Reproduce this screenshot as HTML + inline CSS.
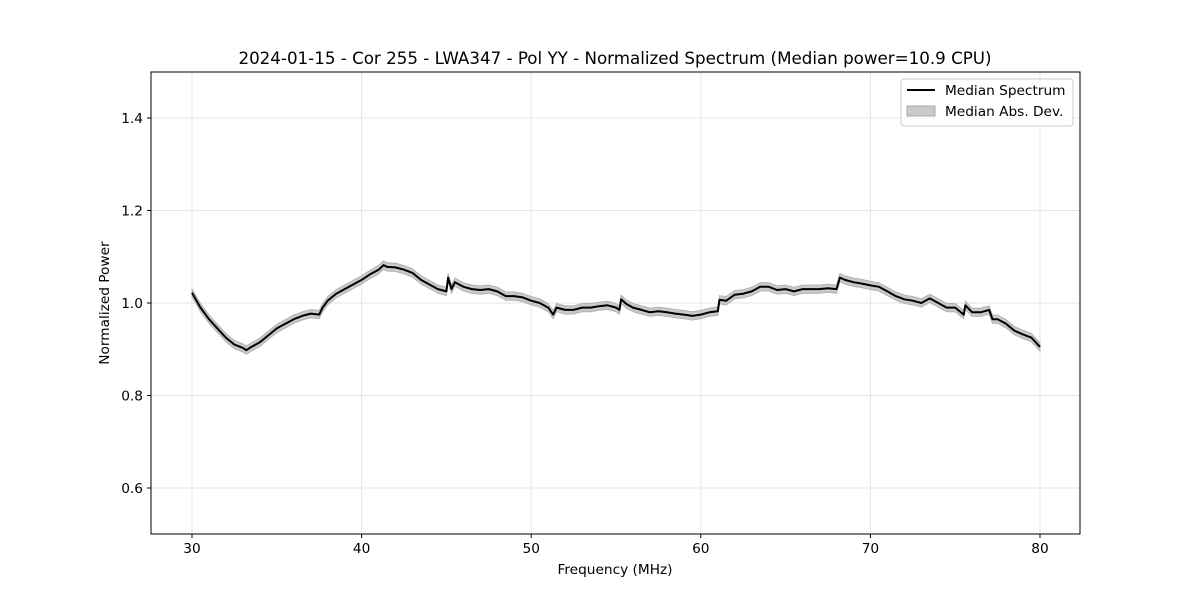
<!DOCTYPE html>
<html><head><meta charset="utf-8"><style>
body{margin:0;background:#fff;}
svg text{font-family:"DejaVu Sans","Liberation Sans",sans-serif;fill:#000;}
</style></head><body>
<svg id="chart" width="1200" height="600" xmlns="http://www.w3.org/2000/svg">
<rect width="1200" height="600" fill="#fff"/>
<g id="grid"></g>
<path id="band" fill="#bbb" fill-opacity="0.8" stroke="#aaa" stroke-width="0.8"/>
<path id="line" fill="none" stroke="#000" stroke-width="2" stroke-linejoin="round"/>
<rect x="151" y="72" width="929" height="462" fill="none" stroke="#000" stroke-width="1"/>
<g id="axes"></g>
<text x="615" y="64" font-size="16.7" text-anchor="middle">2024-01-15 - Cor 255 - LWA347 - Pol YY - Normalized Spectrum (Median power=10.9 CPU)</text>
<text x="615" y="574" font-size="13.7" text-anchor="middle">Frequency (MHz)</text>
<text x="109" y="303" font-size="13.7" text-anchor="middle" transform="rotate(-90 109 303)">Normalized Power</text>
<g>
<rect x="901" y="79" width="172" height="47" rx="3" fill="#fff" fill-opacity="0.8" stroke="#ccc"/>
<g><line x1="907" y1="90" x2="935" y2="90" stroke="#000" stroke-width="2"/><text x="945" y="95" font-size="13.7">Median Spectrum</text></g>
<g><rect x="907" y="106" width="28" height="10" fill="#bbb" fill-opacity="0.8" stroke="#aaa"/><text x="945" y="116" font-size="13.7">Median Abs. Dev.</text></g>
</g>
</svg>
<script>
const freqs=[30,30.5,31,31.5,32,32.5,33,33.2,33.5,34,34.5,35,35.5,36,36.5,37,37.5,37.7,38,38.5,39,39.5,40,40.5,41,41.3,41.5,42,42.5,43,43.5,44,44.5,45,45.1,45.3,45.5,46,46.5,47,47.5,48,48.5,49,49.5,50,50.5,51,51.3,51.5,52,52.5,53,53.5,54,54.5,55,55.2,55.3,55.6,56,56.5,57,57.5,58,58.5,59,59.5,60,60.5,61,61.1,61.5,62,62.5,63,63.5,64,64.5,65,65.5,66,66.5,67,67.5,68,68.2,68.5,69,69.5,70,70.5,71,71.5,72,72.5,73,73.5,74,74.5,75,75.5,75.6,76,76.5,77,77.2,77.5,78,78.5,79,79.5,80];
const medianPower=[1.022,0.99,0.965,0.945,0.925,0.91,0.903,0.898,0.905,0.915,0.93,0.945,0.955,0.965,0.972,0.977,0.975,0.99,1.005,1.02,1.03,1.04,1.05,1.062,1.072,1.082,1.078,1.077,1.072,1.065,1.05,1.04,1.03,1.025,1.055,1.03,1.045,1.035,1.03,1.028,1.03,1.025,1.015,1.015,1.012,1.005,1.0,0.99,0.975,0.99,0.985,0.985,0.99,0.99,0.993,0.995,0.99,0.985,1.008,0.998,0.99,0.985,0.98,0.982,0.98,0.977,0.975,0.972,0.975,0.98,0.982,1.007,1.005,1.018,1.02,1.025,1.035,1.035,1.028,1.03,1.025,1.03,1.03,1.03,1.032,1.03,1.055,1.05,1.045,1.042,1.038,1.035,1.025,1.015,1.008,1.005,1.0,1.01,1.0,0.99,0.99,0.975,0.995,0.98,0.98,0.985,0.965,0.965,0.955,0.94,0.932,0.925,0.905];
const madWidth=0.009;
const xTicks=[30,40,50,60,70,80];
const yTicks=[0.6,0.8,1.0,1.2,1.4];
const yTickLabels=["0.6","0.8","1.0","1.2","1.4"];
const X=v=>192+(v-30)*16.96;
const Y=v=>118+(1.4-v)*462.5;
const NS="http://www.w3.org/2000/svg";
const grid=document.getElementById('grid'),axes=document.getElementById('axes');
function mk(tag,attrs,parent){const e=document.createElementNS(NS,tag);for(const k in attrs)e.setAttribute(k,attrs[k]);parent.appendChild(e);return e;}
xTicks.forEach(t=>{
 const g=mk('line',{x1:X(t),x2:X(t),y1:72,y2:534,stroke:'#e6e6e6','stroke-width':1},grid);
 
 
 const tk=mk('line',{x1:X(t),x2:X(t),y1:534,y2:538,stroke:'#000'},axes);
 
 
 const tx=mk('text',{x:X(t),y:553,'font-size':13.7,'text-anchor':'middle'},axes);
 tx.textContent=t;
 
 
});
yTicks.forEach((t,i)=>{
 const g=mk('line',{x1:151,x2:1080,y1:Y(t),y2:Y(t),stroke:'#e6e6e6','stroke-width':1},grid);
 
 
 const tk=mk('line',{x1:147,x2:151,y1:Y(t),y2:Y(t),stroke:'#000'},axes);
 
 
 const tx=mk('text',{x:143,y:Y(t)+5,'font-size':13.7,'text-anchor':'end'},axes);
 tx.textContent=yTickLabels[i];
 
 
});
let d='';freqs.forEach((f,i)=>{d+=(i?'L':'M')+X(f).toFixed(1)+' '+Y(medianPower[i]).toFixed(1);});
document.getElementById('line').setAttribute('d',d);
let b='';freqs.forEach((f,i)=>{b+=(i?'L':'M')+X(f).toFixed(1)+' '+Y(medianPower[i]+madWidth).toFixed(1);});
for(let i=freqs.length-1;i>=0;i--){b+='L'+X(freqs[i]).toFixed(1)+' '+Y(medianPower[i]-madWidth).toFixed(1);}
document.getElementById('band').setAttribute('d',b+'Z');
</script>
</body></html>
